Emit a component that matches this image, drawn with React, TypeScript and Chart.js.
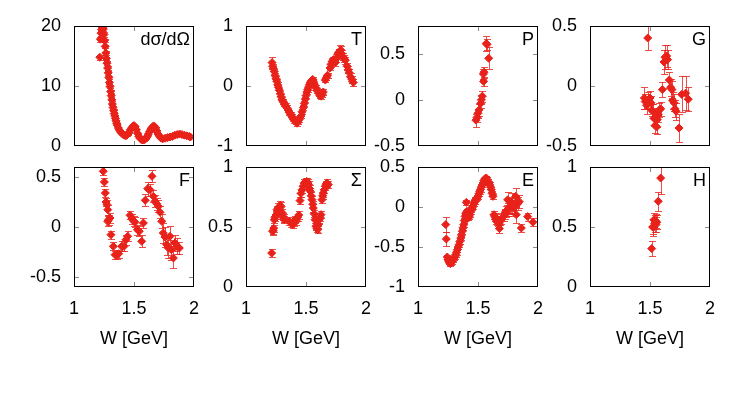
import React, { useEffect, useRef } from 'react';
import { Chart, registerables } from 'chart.js';

Chart.register(...registerables);

type Pt = [number, number, number]; // [W, value, error]

const X_TICKS = [1, 1.5, 2];
const X_TITLE = 'W [GeV]';

const DSIG_TICKS = [0, 10, 20];
const T_TICKS = [-1, 0, 1];
const P_TICKS = [-0.5, 0, 0.5];
const G_TICKS = [-0.5, 0, 0.5];
const F_TICKS = [-0.5, 0, 0.5];
const S_TICKS = [0, 0.5, 1];
const E_TICKS = [-1, -0.5, 0, 0.5];
const H_TICKS = [0, 0.5, 1];

const DSIG: Pt[] = [
  [1.215, 14.8, 0.4], [1.22, 17.8, 0.4], [1.225, 18.8, 0.4], [1.23, 19.4, 0.4], [1.235, 19.8, 0.4],
  [1.24, 19.9, 0.4], [1.245, 19.5, 0.4], [1.25, 18.6, 0.4], [1.255, 17.6, 0.3], [1.26, 16.6, 0.3],
  [1.265, 15.5, 0.3], [1.27, 14.6, 0.3], [1.275, 13.8, 0.3], [1.28, 13.0, 0.3], [1.285, 12.2, 0.3],
  [1.29, 11.4, 0.3], [1.295, 10.6, 0.2], [1.3, 9.9, 0.2], [1.305, 9.1, 0.2], [1.31, 8.4, 0.2],
  [1.315, 7.7, 0.2], [1.32, 7.0, 0.2], [1.325, 6.4, 0.2], [1.33, 5.9, 0.2], [1.335, 5.4, 0.2],
  [1.34, 5.0, 0.2], [1.345, 4.6, 0.1], [1.35, 4.2, 0.1], [1.355, 3.8, 0.1], [1.36, 3.5, 0.1],
  [1.37, 3.0, 0.1], [1.38, 2.6, 0.1], [1.39, 2.3, 0.1], [1.4, 2.1, 0.1], [1.41, 1.9, 0.1],
  [1.42, 1.8, 0.1], [1.43, 1.7, 0.1], [1.44, 1.8, 0.1], [1.45, 2.0, 0.1], [1.46, 2.3, 0.1],
  [1.47, 2.7, 0.1], [1.48, 3.0, 0.1], [1.49, 3.3, 0.1], [1.5, 3.4, 0.1], [1.51, 3.2, 0.1],
  [1.52, 2.7, 0.1], [1.53, 2.1, 0.1], [1.54, 1.6, 0.1], [1.55, 1.3, 0.1], [1.56, 1.1, 0.1],
  [1.57, 1.0, 0.1], [1.58, 1.0, 0.1], [1.59, 1.1, 0.1], [1.6, 1.3, 0.1], [1.61, 1.6, 0.1],
  [1.62, 2.0, 0.1], [1.63, 2.4, 0.1], [1.64, 2.8, 0.1], [1.65, 3.1, 0.1], [1.66, 3.3, 0.1],
  [1.67, 3.3, 0.1], [1.68, 3.0, 0.1], [1.69, 2.5, 0.1], [1.7, 2.0, 0.1], [1.71, 1.7, 0.1],
  [1.72, 1.4, 0.1], [1.73, 1.3, 0.1], [1.74, 1.2, 0.1], [1.76, 1.3, 0.1], [1.78, 1.4, 0.1],
  [1.8, 1.5, 0.1], [1.82, 1.6, 0.1], [1.84, 1.8, 0.1], [1.86, 1.9, 0.1], [1.88, 2.0, 0.1],
  [1.9, 1.9, 0.1], [1.92, 1.8, 0.1], [1.94, 1.7, 0.1], [1.96, 1.6, 0.1], [1.97, 1.5, 0.1],
];

const T_DATA: Pt[] = [
  [1.217, 0.39, 0.1], [1.222, 0.33, 0.04], [1.228, 0.29, 0.04], [1.236, 0.24, 0.04], [1.244, 0.17, 0.04],
  [1.25, 0.12, 0.04], [1.256, 0.08, 0.04], [1.264, 0.02, 0.04], [1.27, -0.02, 0.04], [1.278, -0.07, 0.04],
  [1.286, -0.13, 0.04], [1.293, -0.18, 0.04], [1.3, -0.23, 0.04], [1.31, -0.26, 0.04], [1.32, -0.3, 0.04],
  [1.33, -0.33, 0.04], [1.339, -0.36, 0.04], [1.35, -0.4, 0.04], [1.361, -0.44, 0.04], [1.372, -0.47, 0.04],
  [1.383, -0.51, 0.04], [1.393, -0.54, 0.04], [1.403, -0.57, 0.04], [1.415, -0.6, 0.04], [1.425, -0.62, 0.04],
  [1.432, -0.6, 0.04], [1.444, -0.56, 0.04], [1.458, -0.5, 0.04], [1.467, -0.43, 0.04], [1.478, -0.36, 0.04],
  [1.486, -0.29, 0.04], [1.494, -0.22, 0.04], [1.5, -0.16, 0.04], [1.507, -0.1, 0.04], [1.514, -0.06, 0.04],
  [1.521, -0.02, 0.04], [1.528, 0.02, 0.04], [1.535, 0.05, 0.04], [1.542, 0.08, 0.04], [1.55, 0.1, 0.04],
  [1.556, 0.11, 0.04], [1.561, 0.08, 0.04], [1.57, 0.03, 0.04], [1.583, -0.03, 0.04], [1.594, -0.08, 0.04],
  [1.606, -0.12, 0.04], [1.615, -0.16, 0.04], [1.625, -0.17, 0.05], [1.635, -0.14, 0.05], [1.644, -0.1, 0.05],
  [1.661, 0.1, 0.04], [1.67, 0.14, 0.04], [1.68, 0.18, 0.04], [1.7, 0.3, 0.04], [1.708, 0.36, 0.05],
  [1.718, 0.41, 0.05], [1.728, 0.44, 0.05], [1.736, 0.42, 0.05], [1.744, 0.39, 0.05], [1.752, 0.45, 0.05],
  [1.764, 0.53, 0.05], [1.772, 0.56, 0.06], [1.778, 0.55, 0.06], [1.786, 0.59, 0.1], [1.79, 0.6, 0.06],
  [1.797, 0.54, 0.06], [1.806, 0.49, 0.06], [1.815, 0.46, 0.06], [1.828, 0.43, 0.06], [1.842, 0.33, 0.06],
  [1.852, 0.27, 0.06], [1.861, 0.22, 0.06], [1.872, 0.15, 0.06], [1.883, 0.11, 0.06], [1.894, 0.06, 0.06],
];

const P_DATA: Pt[] = [
  [1.569, 0.61, 0.08], [1.575, 0.6, 0.06], [1.589, 0.45, 0.12], [1.55, 0.3, 0.06], [1.545, 0.28, 0.05],
  [1.547, 0.2, 0.05], [1.536, 0.04, 0.06], [1.528, 0.0, 0.05], [1.522, -0.04, 0.05], [1.508, -0.11, 0.06],
  [1.5, -0.145, 0.05], [1.492, -0.19, 0.05], [1.483, -0.22, 0.07],
];

const G_DATA: Pt[] = [
  [1.481, 0.4, 0.1], [1.453, -0.1, 0.09], [1.46, -0.13, 0.06], [1.472, -0.16, 0.07], [1.486, -0.12, 0.07],
  [1.5, -0.1, 0.06], [1.508, -0.14, 0.06], [1.515, -0.2, 0.05], [1.522, -0.21, 0.06], [1.533, -0.27, 0.06],
  [1.542, -0.33, 0.06], [1.556, -0.34, 0.06], [1.561, -0.28, 0.06], [1.569, -0.24, 0.06], [1.578, -0.2, 0.06],
  [1.589, -0.19, 0.06], [1.603, -0.03, 0.06], [1.617, 0.2, 0.1], [1.625, 0.24, 0.1], [1.639, 0.25, 0.09],
  [1.647, 0.22, 0.08], [1.661, 0.05, 0.07], [1.672, -0.01, 0.07], [1.683, -0.03, 0.07], [1.689, -0.12, 0.07],
  [1.7, -0.14, 0.07], [1.708, -0.19, 0.07], [1.717, -0.21, 0.07], [1.742, -0.35, 0.12], [1.764, -0.07, 0.15],
  [1.797, -0.06, 0.14], [1.819, -0.11, 0.1],
];

const F_DATA: Pt[] = [
  [1.244, 0.557, 0.04], [1.253, 0.45, 0.04], [1.261, 0.34, 0.04], [1.267, 0.25, 0.04], [1.275, 0.223, 0.05],
  [1.281, 0.173, 0.05], [1.289, 0.073, 0.05], [1.281, 0.057, 0.05], [1.3, 0.09, 0.05], [1.308, -0.077, 0.04],
  [1.328, -0.193, 0.04], [1.342, -0.277, 0.04], [1.356, -0.277, 0.04], [1.372, -0.267, 0.04], [1.397, -0.193, 0.05],
  [1.417, -0.193, 0.05], [1.433, -0.127, 0.05], [1.447, -0.093, 0.05], [1.467, 0.117, 0.04], [1.483, 0.08, 0.05],
  [1.5, 0.057, 0.05], [1.508, 0.047, 0.05], [1.528, -0.027, 0.05], [1.544, -0.043, 0.05], [1.564, -0.143, 0.06],
  [1.578, 0.04, 0.05], [1.594, 0.267, 0.06], [1.614, 0.383, 0.07], [1.633, 0.373, 0.06], [1.65, 0.507, 0.06],
  [1.661, 0.307, 0.06], [1.675, 0.257, 0.06], [1.689, 0.233, 0.06], [1.703, 0.207, 0.06], [1.717, 0.147, 0.06],
  [1.731, 0.057, 0.07], [1.744, -0.06, 0.1], [1.758, -0.1, 0.1], [1.772, -0.177, 0.1], [1.786, -0.21, 0.1],
  [1.8, -0.093, 0.1], [1.811, -0.227, 0.1], [1.828, -0.31, 0.1], [1.842, -0.16, 0.08], [1.856, -0.193, 0.08],
  [1.878, -0.21, 0.06],
];

const S_DATA: Pt[] = [
  [1.214, 0.283, 0.03], [1.222, 0.464, 0.03], [1.226, 0.47, 0.03], [1.231, 0.49, 0.03], [1.236, 0.56, 0.03],
  [1.242, 0.58, 0.03], [1.25, 0.6, 0.03], [1.258, 0.644, 0.03], [1.264, 0.62, 0.03], [1.269, 0.658, 0.04],
  [1.278, 0.63, 0.04], [1.285, 0.68, 0.04], [1.292, 0.67, 0.04], [1.3, 0.62, 0.03], [1.306, 0.59, 0.03],
  [1.313, 0.575, 0.03], [1.319, 0.56, 0.03], [1.36, 0.55, 0.03], [1.375, 0.53, 0.03], [1.39, 0.52, 0.03],
  [1.4, 0.54, 0.03], [1.41, 0.56, 0.03], [1.42, 0.55, 0.03], [1.43, 0.58, 0.03], [1.44, 0.6, 0.03],
  [1.45, 0.72, 0.03], [1.458, 0.78, 0.03], [1.467, 0.81, 0.03], [1.476, 0.84, 0.03], [1.486, 0.867, 0.03],
  [1.496, 0.875, 0.03], [1.506, 0.88, 0.03], [1.514, 0.87, 0.03], [1.522, 0.853, 0.03], [1.53, 0.82, 0.03],
  [1.536, 0.797, 0.03], [1.543, 0.76, 0.03], [1.55, 0.728, 0.03], [1.556, 0.69, 0.03], [1.561, 0.658, 0.03],
  [1.568, 0.61, 0.03], [1.575, 0.561, 0.03], [1.583, 0.506, 0.03], [1.59, 0.49, 0.03], [1.597, 0.478, 0.03],
  [1.604, 0.52, 0.03], [1.611, 0.561, 0.03], [1.618, 0.58, 0.03], [1.625, 0.603, 0.03], [1.633, 0.728, 0.03],
  [1.639, 0.76, 0.03], [1.644, 0.783, 0.03], [1.652, 0.81, 0.03], [1.661, 0.839, 0.03], [1.668, 0.855, 0.03],
  [1.675, 0.867, 0.03], [1.686, 0.853, 0.03],
];

const E_DATA: Pt[] = [
  [1.231, -0.22, 0.09], [1.236, -0.4, 0.09], [1.244, -0.625, 0.03], [1.25, -0.66, 0.03], [1.258, -0.68, 0.03],
  [1.264, -0.7, 0.03], [1.269, -0.708, 0.03], [1.278, -0.69, 0.03], [1.286, -0.68, 0.03], [1.293, -0.66, 0.03],
  [1.3, -0.638, 0.03], [1.307, -0.62, 0.03], [1.314, -0.596, 0.03], [1.321, -0.565, 0.03], [1.328, -0.533, 0.03],
  [1.335, -0.5, 0.03], [1.342, -0.471, 0.03], [1.349, -0.43, 0.03], [1.356, -0.388, 0.03], [1.362, -0.35, 0.03],
  [1.369, -0.304, 0.03], [1.375, -0.26, 0.03], [1.381, -0.221, 0.03], [1.386, -0.17, 0.03], [1.392, -0.117, 0.03],
  [1.398, -0.08, 0.03], [1.403, 0.058, 0.03], [1.408, -0.054, 0.03], [1.414, -0.11, 0.03], [1.419, -0.138, 0.03],
  [1.425, -0.12, 0.03], [1.431, -0.096, 0.03], [1.438, -0.06, 0.03], [1.444, -0.033, 0.03], [1.451, -0.01, 0.03],
  [1.458, 0.008, 0.03], [1.465, 0.04, 0.03], [1.472, 0.071, 0.03], [1.479, 0.09, 0.03], [1.486, 0.1, 0.03],
  [1.493, 0.115, 0.03], [1.5, 0.133, 0.03], [1.507, 0.165, 0.03], [1.514, 0.196, 0.03], [1.521, 0.22, 0.03],
  [1.528, 0.25, 0.03], [1.535, 0.275, 0.03], [1.542, 0.3, 0.03], [1.549, 0.33, 0.03], [1.556, 0.35, 0.03],
  [1.563, 0.36, 0.03], [1.569, 0.363, 0.03], [1.576, 0.34, 0.03], [1.583, 0.321, 0.03], [1.59, 0.3, 0.03],
  [1.597, 0.279, 0.03], [1.604, 0.25, 0.03], [1.611, 0.217, 0.03], [1.618, 0.17, 0.03], [1.625, 0.133, 0.03],
  [1.633, -0.096, 0.05], [1.64, -0.12, 0.05], [1.647, -0.138, 0.05], [1.652, -0.16, 0.05], [1.658, -0.179, 0.05],
  [1.665, -0.19, 0.05], [1.675, -0.208, 0.06], [1.678, -0.27, 0.05], [1.684, -0.18, 0.05], [1.694, -0.158, 0.05],
  [1.704, -0.13, 0.05], [1.714, -0.117, 0.06], [1.722, -0.09, 0.06], [1.731, -0.054, 0.07], [1.74, -0.04, 0.07],
  [1.747, 0.09, 0.1], [1.75, -0.033, 0.08], [1.758, -0.01, 0.08], [1.769, 0.008, 0.1], [1.778, 0.03, 0.1],
  [1.786, 0.05, 0.12], [1.8, -0.013, 0.1], [1.806, 0.03, 0.1], [1.814, 0.133, 0.1], [1.819, -0.096, 0.1],
  [1.83, 0.04, 0.08], [1.844, 0.067, 0.08], [1.861, -0.263, 0.05], [1.914, -0.12, 0.05], [1.958, -0.19, 0.05],
];

const H_DATA: Pt[] = [
  [1.514, 0.32, 0.06], [1.522, 0.5, 0.06], [1.528, 0.497, 0.07], [1.533, 0.56, 0.06], [1.539, 0.53, 0.07],
  [1.547, 0.55, 0.06], [1.55, 0.52, 0.06], [1.556, 0.54, 0.06], [1.569, 0.714, 0.08], [1.589, 0.908, 0.13],
];

const PANELS = [
  { name: 'dσ/dΩ', data: DSIG, min: 0, max: 20, ticks: DSIG_TICKS },
  { name: 'T', data: T_DATA, min: -1, max: 1, ticks: T_TICKS },
  { name: 'P', data: P_DATA, min: -0.5, max: 0.8, ticks: P_TICKS },
  { name: 'G', data: G_DATA, min: -0.5, max: 0.5, ticks: G_TICKS },
  { name: 'F', data: F_DATA, min: -0.6, max: 0.6, ticks: F_TICKS },
  { name: 'Σ', data: S_DATA, min: 0, max: 1, ticks: S_TICKS },
  { name: 'E', data: E_DATA, min: -1, max: 0.5, ticks: E_TICKS },
  { name: 'H', data: H_DATA, min: 0, max: 1, ticks: H_TICKS },
];

// layout
const COL_LEFT = [74, 246, 418, 590];
const ROW_TOP = [26, 167];
const PLOT = 120;
const AX_W = 70;
const PAD_T = 10;
const PAD_R = 14;
const BOTTOM_H = 70;

const RED = '#e8221a';
const ERR = 'rgba(232,34,26,0.8)';
const FONT_FAMILY = '"Liberation Sans", Arial, sans-serif';
const FONT_SIZE = 18;

const errorBarPlugin = {
  id: 'errorBars',
  beforeDatasetsDraw(chart: any) {
    const { ctx, chartArea: a } = chart;
    const xs = chart.scales.x;
    const ys = chart.scales.y;
    ctx.save();
    ctx.beginPath();
    ctx.rect(a.left, a.top, a.right - a.left, a.bottom - a.top);
    ctx.clip();
    ctx.strokeStyle = ERR;
    ctx.lineWidth = 1;
    chart.data.datasets.forEach((ds: any) => {
      ds.data.forEach((p: any) => {
        const x = Math.round(xs.getPixelForValue(p.x)) + 0.5;
        const y1 = Math.round(ys.getPixelForValue(p.y - p.e)) + 0.5;
        const y2 = Math.round(ys.getPixelForValue(p.y + p.e)) + 0.5;
        ctx.beginPath();
        ctx.moveTo(x, y1);
        ctx.lineTo(x, y2);
        ctx.moveTo(x - 3.5, y1);
        ctx.lineTo(x + 3.5, y1);
        ctx.moveTo(x - 3.5, y2);
        ctx.lineTo(x + 3.5, y2);
        ctx.stroke();
      });
    });
    ctx.restore();
  },
};

const framePlugin = {
  id: 'frame',
  afterDraw(chart: any, _args: any, opts: any) {
    const { ctx, chartArea: a } = chart;
    const xs = chart.scales.x;
    const ys = chart.scales.y;
    ctx.save();
    ctx.strokeStyle = '#8a8a8a';
    ctx.lineWidth = 1;
    const tl = 5;
    X_TICKS.forEach((v) => {
      if (v <= xs.min || v >= xs.max) return;
      const x = Math.round(xs.getPixelForValue(v)) + 0.5;
      ctx.beginPath();
      ctx.moveTo(x, a.top);
      ctx.lineTo(x, a.top + tl);
      ctx.moveTo(x, a.bottom);
      ctx.lineTo(x, a.bottom - tl);
      ctx.stroke();
    });
    (opts.yTicks as number[]).forEach((v) => {
      if (v <= ys.min || v >= ys.max) return;
      const y = Math.round(ys.getPixelForValue(v)) + 0.5;
      ctx.beginPath();
      ctx.moveTo(a.left, y);
      ctx.lineTo(a.left + tl, y);
      ctx.moveTo(a.right, y);
      ctx.lineTo(a.right - tl, y);
      ctx.stroke();
    });
    ctx.strokeStyle = '#000';
    ctx.lineWidth = 1;
    ctx.strokeRect(a.left + 0.5, a.top + 0.5, a.right - a.left - 1, a.bottom - a.top - 1);
    ctx.fillStyle = '#000';
    ctx.font = `${FONT_SIZE}px ${FONT_FAMILY}`;
    ctx.textAlign = 'right';
    ctx.textBaseline = 'alphabetic';
    ctx.fillText(opts.name, a.right - 4, a.top + 19);
    ctx.restore();
  },
};

function Panel({ idx }: { idx: number }) {
  const ref = useRef<HTMLCanvasElement>(null);
  const cfg = PANELS[idx];
  const col = idx % 4;
  const row = Math.floor(idx / 4);
  const bottom = row === 1;
  const W = AX_W + PLOT + PAD_R;
  const H = PAD_T + PLOT + (bottom ? BOTTOM_H : PAD_R);

  useEffect(() => {
    const font = { family: FONT_FAMILY, size: FONT_SIZE };
    const chart = new Chart(ref.current as HTMLCanvasElement, {
      type: 'scatter',
      data: {
        datasets: [
          {
            data: cfg.data.map(([x, y, e]) => ({ x, y, e })) as any,
            pointStyle: 'rectRot',
            pointRadius: 4,
            backgroundColor: RED,
            borderColor: RED,
            borderWidth: 1,
          },
        ],
      },
      options: {
        responsive: false,
        animation: false,
        events: [],
        layout: { padding: { left: 0, top: PAD_T, right: PAD_R, bottom: bottom ? 0 : PAD_R } },
        plugins: {
          legend: { display: false },
          tooltip: { enabled: false },
          frame: { name: cfg.name, yTicks: cfg.ticks },
        } as any,
        scales: {
          x: {
            type: 'linear',
            min: 1,
            max: 2,
            grid: { display: false, drawTicks: false },
            border: { display: false },
            afterBuildTicks: (s: any) => {
              s.ticks = X_TICKS.map((v) => ({ value: v }));
            },
            afterFit: (s: any) => {
              s.height = bottom ? BOTTOM_H : 0;
              s.paddingLeft = 0;
              s.paddingRight = 0;
            },
            ticks: {
              display: bottom,
              padding: 11,
              font,
              color: '#000',
              maxRotation: 0,
              autoSkip: false,
              callback: (v: any) => String(v),
            },
            title: {
              display: bottom,
              text: X_TITLE,
              font,
              color: '#000',
              padding: { top: 0, bottom: 7 },
            },
          },
          y: {
            type: 'linear',
            min: cfg.min,
            max: cfg.max,
            grid: { display: false, drawTicks: false },
            border: { display: false },
            afterBuildTicks: (s: any) => {
              s.ticks = cfg.ticks.map((v) => ({ value: v }));
            },
            afterFit: (s: any) => {
              s.width = AX_W;
              s.paddingTop = 0;
              s.paddingBottom = 0;
            },
            ticks: {
              padding: 13,
              font,
              color: '#000',
              autoSkip: false,
              callback: (v: any) => String(v),
            },
          },
        },
      } as any,
      plugins: [errorBarPlugin, framePlugin],
    });
    return () => chart.destroy();
  }, []);

  return (
    <canvas
      ref={ref}
      width={W}
      height={H}
      style={{
        position: 'absolute',
        left: COL_LEFT[col] - AX_W,
        top: ROW_TOP[row] - PAD_T,
        width: W,
        height: H,
      }}
    />
  );
}

export default function App() {
  return (
    <div style={{ position: 'absolute', left: 0, top: 0, width: 747, height: 393, background: '#fff', overflow: 'hidden' }}>
      {PANELS.map((_, i) => (
        <Panel key={i} idx={i} />
      ))}
    </div>
  );
}
